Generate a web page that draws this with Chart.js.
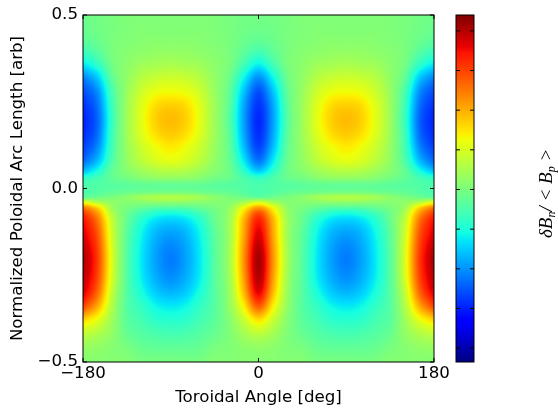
<!DOCTYPE html>
<html>
<head>
<meta charset="utf-8">
<script src="https://cdn.jsdelivr.net/npm/chart.js@4"></script>
<style>
html, body { margin: 0; padding: 0; background: #fff; }
canvas { position: absolute; left: 0; top: 0; }
</style>
</head>
<body>
<canvas id="mapChart" width="558" height="409"></canvas>
<canvas id="barChart" width="558" height="409"></canvas>
<script>
const angles = [-180,-165,-150,-135,-120,-105,-90,-75,-60,-45,-30,-15,0,15,30,45,60,75,90,105,120,135,150,165,180];
const arcs = [0.5,0.44,0.4,0.36,0.32,0.28,0.24,0.2,0.16,0.12,0.08,0.05,0.03,0.01,-0.01,-0.025,-0.04,-0.055,-0.07,-0.09,-0.13,-0.2,-0.26,-0.3,-0.34,-0.38,-0.42,-0.46,-0.5];
// one row per arc, one column per angle
const field = [
[-.01,-.005,0,.005,.005,.005,.005,.005,.005,.005,0,-.005,-.005,-.005,0,.005,.005,.005,.005,.005,.005,.005,0,-.005,-.01],
[-.02,-.01,0,.005,.01,.01,.01,.01,.01,.005,0,-.01,-.015,-.01,0,.005,.01,.01,.01,.01,.01,.005,0,-.01,-.02],
[-.05,-.025,0,.01,.015,.02,.02,.02,.015,.01,0,-.02,-.04,-.02,0,.01,.015,.02,.02,.02,.015,.01,0,-.025,-.05],
[-.1,-.06,-.005,.015,.03,.035,.04,.035,.03,.015,0,-.045,-.09,-.045,0,.015,.03,.035,.04,.035,.03,.015,-.005,-.06,-.1],
[-.17,-.12,-.02,.02,.05,.065,.07,.065,.05,.02,-.01,-.09,-.16,-.09,-.01,.02,.05,.065,.07,.065,.05,.02,-.02,-.12,-.17],
[-.21,-.16,-.04,.025,.07,.095,.1,.095,.07,.025,-.02,-.125,-.205,-.125,-.02,.025,.07,.095,.1,.095,.07,.025,-.04,-.16,-.21],
[-.23,-.18,-.05,.03,.085,.125,.135,.125,.085,.03,-.025,-.145,-.225,-.145,-.025,.03,.085,.125,.135,.125,.085,.03,-.05,-.18,-.23],
[-.24,-.19,-.055,.03,.09,.135,.15,.135,.09,.03,-.03,-.15,-.235,-.15,-.03,.03,.09,.135,.15,.135,.09,.03,-.055,-.19,-.24],
[-.235,-.185,-.05,.03,.085,.125,.14,.125,.085,.03,-.025,-.145,-.23,-.145,-.025,.03,.085,.125,.14,.125,.085,.03,-.05,-.185,-.235],
[-.22,-.165,-.045,.025,.07,.1,.115,.1,.07,.025,-.02,-.13,-.215,-.13,-.02,.025,.07,.1,.115,.1,.07,.025,-.045,-.165,-.22],
[-.19,-.13,-.035,.02,.055,.08,.09,.08,.055,.02,-.015,-.1,-.18,-.1,-.015,.02,.055,.08,.09,.08,.055,.02,-.035,-.13,-.19],
[-.13,-.08,-.02,.01,.03,.045,.05,.045,.03,.01,-.01,-.065,-.12,-.065,-.01,.01,.03,.045,.05,.045,.03,.01,-.02,-.08,-.13],
[-.065,-.045,-.02,-.005,.01,.02,.02,.02,.01,-.005,-.015,-.04,-.06,-.04,-.015,-.005,.01,.02,.02,.02,.01,-.005,-.02,-.045,-.065],
[-.04,-.035,-.03,-.025,-.02,-.02,-.02,-.02,-.02,-.025,-.03,-.035,-.04,-.035,-.03,-.025,-.02,-.02,-.02,-.02,-.02,-.025,-.03,-.035,-.04],
[-.04,-.03,-.02,-.015,-.01,-.005,-.005,-.005,-.01,-.015,-.02,-.03,-.04,-.03,-.02,-.015,-.01,-.005,-.005,-.005,-.01,-.015,-.02,-.03,-.04],
[-.02,-.01,0,.015,.035,.045,.05,.045,.035,.015,0,-.01,-.02,-.01,0,.015,.035,.045,.05,.045,.035,.015,0,-.01,-.02],
[.1,.05,.02,.01,.01,.015,.015,.015,.01,.01,.01,.04,.08,.04,.01,.01,.01,.015,.015,.015,.01,.01,.02,.05,.1],
[.2,.13,.03,0,-.015,-.03,-.03,-.03,-.015,0,.02,.1,.17,.1,.02,0,-.015,-.03,-.03,-.03,-.015,0,.03,.13,.2],
[.25,.17,.045,-.01,-.045,-.07,-.08,-.07,-.045,-.01,.025,.13,.23,.13,.025,-.01,-.045,-.07,-.08,-.07,-.045,-.01,.045,.17,.25],
[.28,.2,.06,-.015,-.07,-.105,-.115,-.105,-.07,-.015,.03,.155,.265,.155,.03,-.015,-.07,-.105,-.115,-.105,-.07,-.015,.06,.2,.28],
[.3,.225,.07,-.025,-.09,-.135,-.15,-.135,-.09,-.025,.03,.165,.295,.165,.03,-.025,-.09,-.135,-.15,-.135,-.09,-.025,.07,.225,.3],
[.33,.245,.08,-.03,-.1,-.15,-.175,-.15,-.1,-.03,.035,.18,.33,.18,.035,-.03,-.1,-.15,-.175,-.15,-.1,-.03,.08,.245,.33],
[.32,.235,.075,-.03,-.095,-.14,-.16,-.14,-.095,-.03,.03,.17,.32,.17,.03,-.03,-.095,-.14,-.16,-.14,-.095,-.03,.075,.235,.32],
[.3,.21,.06,-.03,-.08,-.12,-.135,-.12,-.08,-.03,.025,.15,.29,.15,.025,-.03,-.08,-.12,-.135,-.12,-.08,-.03,.06,.21,.3],
[.24,.16,.045,-.03,-.06,-.09,-.1,-.09,-.06,-.03,.02,.11,.22,.11,.02,-.03,-.06,-.09,-.1,-.09,-.06,-.03,.045,.16,.24],
[.13,.09,.03,-.025,-.045,-.065,-.07,-.065,-.045,-.025,.01,.065,.12,.065,.01,-.025,-.045,-.065,-.07,-.065,-.045,-.025,.03,.09,.13],
[.06,.045,.02,-.015,-.03,-.04,-.045,-.04,-.03,-.015,.005,.035,.055,.035,.005,-.015,-.03,-.04,-.045,-.04,-.03,-.015,.02,.045,.06],
[.025,.02,.01,0,-.015,-.02,-.02,-.02,-.015,0,.005,.015,.02,.015,.005,0,-.015,-.02,-.02,-.02,-.015,0,.01,.02,.025],
[.01,.01,.01,.01,0,0,0,0,0,.01,.01,.01,.01,.01,.01,.01,0,0,0,0,0,.01,.01,.01,.01]
];
const angleTicks = [-180, 0, 180];
const arcTicks = [-0.5, 0, 0.5];
const barTicks = [-0.32, -0.24, -0.16, -0.08, 0, 0.08, 0.16, 0.24, 0.32];
const barMin = -0.348;
const barMax = 0.352;

// matplotlib jet segments
const jetT = [0, .11, .125, .34, .35, .375, .64, .65, .66, .89, .91, 1];
const jetR = [0, 0, 0, 0, 0, .0806, .9355, .9677, 1, 1, .909, .5];
const jetG = [0, 0, 0, .86, .9, 1, 1, .963, .926, .074, 0, 0];
const jetB = [.5, 1, 1, 1, .9677, .887, .0323, 0, 0, 0, 0, 0];

const font = "'DejaVu Sans'";
const fontSize = 16.67;

function jet(v) {
    const t = Math.min(1, Math.max(0, (v - barMin) / (barMax - barMin)));
    let i = 0;
    while (i < jetT.length - 2 && t > jetT[i + 1]) i++;
    const f = (t - jetT[i]) / (jetT[i + 1] - jetT[i]);
    return [jetR, jetG, jetB].map(c => Math.round(255 * (c[i] + f * (c[i + 1] - c[i]))));
}

// smooth curve through the table values, for painting between cells
function hermite(knots, vals, q) {
    let i = 0;
    const n = knots.length;
    while (i < n - 2 && q > knots[i + 1]) i++;
    const h = knots[i + 1] - knots[i];
    const slope = j => (vals[Math.min(n - 1, j + 1)] - vals[Math.max(0, j - 1)]) /
        (knots[Math.min(n - 1, j + 1)] - knots[Math.max(0, j - 1)]);
    const s = (q - knots[i]) / h;
    const s2 = s * s, s3 = s2 * s;
    return (2 * s3 - 3 * s2 + 1) * vals[i] + (s3 - 2 * s2 + s) * h * slope(i) +
        (-2 * s3 + 3 * s2) * vals[i + 1] + (s3 - s2) * h * slope(i + 1);
}

const heatPlugin = {
    id: 'heat',
    beforeDatasetsDraw(chart) {
        const { ctx, chartArea: a, scales } = chart;
        const w = Math.round(a.right - a.left), h = Math.round(a.bottom - a.top);
        const off = document.createElement('canvas');
        off.width = w;
        off.height = h;
        const octx = off.getContext('2d');
        const img = octx.createImageData(w, h);
        const neg = arcs.map(y => -y);
        for (let px = 0; px < w; px++) {
            const xv = scales.x.getValueForPixel(a.left + px + 0.5);
            const col = field.map(row => hermite(angles, row, xv));
            for (let py = 0; py < h; py++) {
                const yv = scales.y.getValueForPixel(a.top + py + 0.5);
                const c = jet(hermite(neg, col, -yv));
                const k = 4 * (py * w + px);
                img.data[k] = c[0];
                img.data[k + 1] = c[1];
                img.data[k + 2] = c[2];
                img.data[k + 3] = 255;
            }
        }
        octx.putImageData(img, 0, 0);
        ctx.drawImage(off, a.left, a.top, w, h);
    }
};

const framePlugin = {
    id: 'frame',
    afterDatasetsDraw(chart) {
        const { ctx, chartArea: a, scales } = chart;
        ctx.save();
        ctx.strokeStyle = '#000';
        ctx.lineWidth = 1;
        ctx.beginPath();
        Object.values(scales).forEach(s => {
            if (!s.options.display) return;
            s.ticks.forEach((t, i) => {
                const p = s.getPixelForTick(i);
                if (s.isHorizontal()) {
                    ctx.moveTo(p, a.top); ctx.lineTo(p, a.top + 4);
                    ctx.moveTo(p, a.bottom); ctx.lineTo(p, a.bottom - 4);
                } else {
                    ctx.moveTo(a.left, p); ctx.lineTo(a.left + 4, p);
                    ctx.moveTo(a.right, p); ctx.lineTo(a.right - 4, p);
                }
            });
        });
        ctx.stroke();
        ctx.strokeRect(a.left, a.top, a.right - a.left, a.bottom - a.top);
        ctx.restore();
    }
};

const barPlugin = {
    id: 'bar',
    beforeDatasetsDraw(chart) {
        const { ctx, chartArea: a, scales } = chart;
        const g = ctx.createLinearGradient(0, scales.y.getPixelForValue(barMin), 0, scales.y.getPixelForValue(barMax));
        jetT.forEach(t => {
            const c = jet(barMin + t * (barMax - barMin));
            g.addColorStop(t, `rgb(${c[0]},${c[1]},${c[2]})`);
        });
        ctx.fillStyle = g;
        ctx.fillRect(a.left, a.top, a.right - a.left, a.bottom - a.top);
    },
    afterDraw(chart) {
        // rotated label with subscripts
        const { ctx } = chart;
        ctx.save();
        ctx.translate(552, 238);
        ctx.rotate(-Math.PI / 2);
        ctx.fillStyle = '#000';
        ctx.textBaseline = 'alphabetic';
        let x = 0;
        [['δB', 19, 0], ['n', 12, 3], ['/', 19, 0], [' < ', 19, 0], ['B', 19, 0], ['p', 12, 3], [' >', 19, 0]].forEach(p => {
            ctx.font = `italic ${p[1]}px 'Liberation Serif'`;
            ctx.fillText(p[0], x, p[2]);
            x += ctx.measureText(p[0]).width;
        });
        ctx.restore();
    }
};

const minusLabel = v => String(v).replace('-', '\u2212');

new Chart(document.getElementById('mapChart'), {
    type: 'scatter',
    data: {
        datasets: [{
            data: arcs.flatMap((y, r) => angles.map((x, c) => ({ x, y, v: field[r][c] }))),
            pointRadius: 0
        }]
    },
    options: {
        responsive: false,
        animation: false,
        devicePixelRatio: 1,
        layout: { padding: { top: 15, right: 124, left: 0, bottom: 0 } },
        plugins: { legend: { display: false }, tooltip: { enabled: false } },
        scales: {
            x: {
                type: 'linear', min: -180, max: 180,
                afterBuildTicks: s => { s.ticks = angleTicks.map(value => ({ value })); },
                afterFit: s => { s.height = 47; },
                grid: { display: false, drawTicks: false },
                border: { display: false },
                ticks: {
                    color: '#000', font: { family: font, size: fontSize }, padding: 2,
                    maxRotation: 0, autoSkip: false, callback: minusLabel
                },
                title: {
                    display: true, text: 'Toroidal Angle [deg]', color: '#000',
                    font: { family: font, size: fontSize }, padding: { top: 0, bottom: 1 }
                }
            },
            y: {
                type: 'linear', min: -0.5, max: 0.5,
                afterBuildTicks: s => { s.ticks = arcTicks.map(value => ({ value })); },
                afterFit: s => { s.width = 83; },
                grid: { display: false, drawTicks: false },
                border: { display: false },
                ticks: {
                    color: '#000', font: { family: font, size: fontSize }, padding: 5,
                    autoSkip: false, callback: v => minusLabel(v.toFixed(1))
                },
                title: {
                    display: true, text: 'Normalized Poloidal Arc Length [arb]', color: '#000',
                    font: { family: font, size: fontSize }, padding: { top: 8, bottom: 0 }
                }
            }
        }
    },
    plugins: [heatPlugin, framePlugin]
});

new Chart(document.getElementById('barChart'), {
    type: 'scatter',
    data: { datasets: [{ data: barTicks.map(y => ({ x: 0, y })), pointRadius: 0 }] },
    options: {
        responsive: false,
        animation: false,
        devicePixelRatio: 1,
        layout: { padding: { top: 15, right: 84, left: 456, bottom: 47 } },
        plugins: { legend: { display: false }, tooltip: { enabled: false } },
        scales: {
            x: { display: false, min: 0, max: 1 },
            y: {
                type: 'linear', position: 'right', min: barMin, max: barMax,
                afterBuildTicks: s => { s.ticks = barTicks.map(value => ({ value })); },
                afterFit: s => { s.width = 0; },
                grid: { display: false, drawTicks: false },
                border: { display: false },
                ticks: {
                    color: '#000', font: { family: font, size: fontSize }, padding: 5,
                    autoSkip: false, callback: v => minusLabel(v.toFixed(2))
                }
            }
        }
    },
    plugins: [barPlugin, framePlugin]
});
</script>
</body>
</html>
